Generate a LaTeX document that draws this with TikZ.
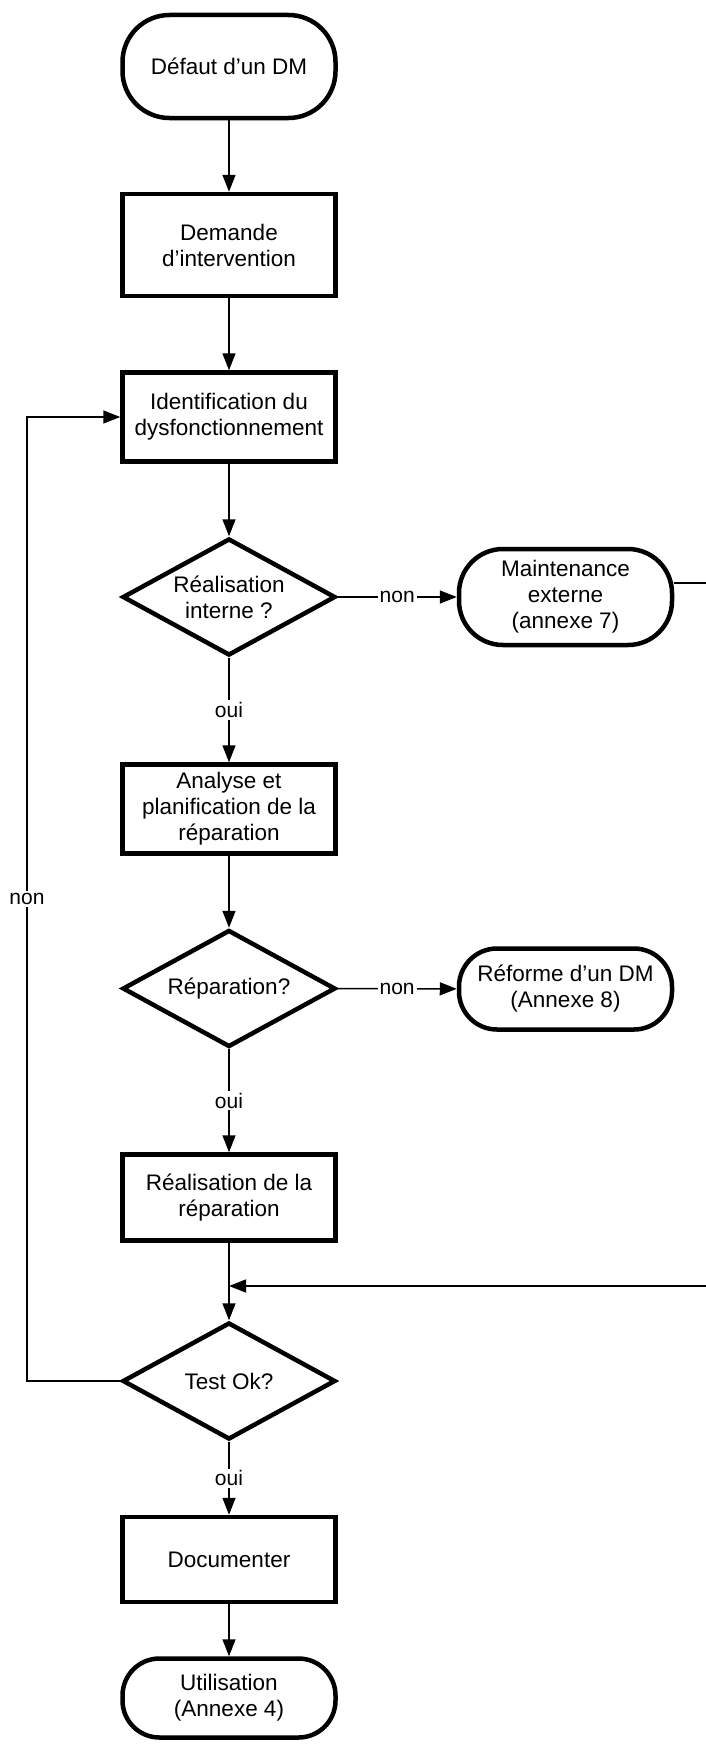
\documentclass[tikz,border=0pt]{standalone}
\usepackage{fontspec}
\setmainfont{Liberation Sans}
\usetikzlibrary{shapes.geometric,arrows.meta}
\begin{document}
\begin{tikzpicture}[x=1pt,y=-1pt,
  box/.style={draw, line width=4.5pt, minimum width=213pt, align=center,
    inner sep=0pt, font=\fontsize{22.5}{26}\selectfont},
  stepbox/.style={box, rectangle},
  term/.style={box, rectangle, rounded corners=#1},
  decision/.style={box, diamond, aspect=1.8, minimum height=117pt},
  flow/.style={line width=1.5pt, -{Triangle[length=17pt,width=13pt]}},
  lbl/.style={fill=white, inner sep=2pt, font=\fontsize{21}{24}\selectfont}]

\useasboundingbox (0,0) rectangle (706,1745);
\clip (0,0) rectangle (706,1745);

% main column
\node[term=47pt, minimum height=103pt] (def) at (229,66.5) {Défaut d’un DM};
\node[stepbox, minimum height=102pt] (dem) at (229,245) {Demande\\d’intervention};
\node[stepbox, minimum height=89pt] (ident) at (229,417) {Identification du\\dysfonctionnement};
\node[decision] (d1) at (229,597) {Réalisation\\interne ?};
\node[stepbox, minimum height=89pt] (ana) at (229,809) {Analyse et\\planification de la\\réparation};
\node[decision] (d2) at (229,988.5) {Réparation?};
\node[stepbox, minimum height=86pt] (real) at (229,1197.5) {Réalisation de la\\réparation};
\node[decision] (test) at (229,1381) {Test Ok?};
\node[stepbox, minimum height=85pt] (doc) at (229,1559.5) {Documenter};
\node[term=37pt, minimum height=79pt] (util) at (229,1698) {Utilisation\\(Annexe 4)};

% side exits
\node[term=44pt, minimum height=96pt] (maint) at (565.5,597) {Maintenance\\externe\\(annexe 7)};
\node[term=38pt, minimum height=81pt] (ref) at (565.5,989) {Réforme d’un DM\\(Annexe 8)};

% routing points
\coordinate (fb) at (229,1286);
\coordinate (rtop) at (720,583);
\coordinate (lb) at (27,1381);
\coordinate (lt) at (27,417);

% connectors
\draw[flow] (def) -- (dem);
\draw[flow] (dem) -- (ident);
\draw[flow] (ident) -- (d1);
\draw[flow] (d1) -- node[lbl] {non} (maint);
\draw[flow] (d1) -- node[lbl] {oui} (ana);
\draw[flow] (ana) -- (d2);
\draw[flow] (d2) -- node[lbl] {non} (ref);
\draw[flow] (d2) -- node[lbl] {oui} (real);
\draw[flow] (real) -- (test);
\draw[flow] ([yshift=14pt]maint.east) -- (rtop) |- (fb);
\draw[flow] (test.west) -- (lb) -- node[lbl] {non} (lt) -- (ident.west);
\draw[flow] (test) -- node[lbl] {oui} (doc);
\draw[flow] (doc) -- (util);
\end{tikzpicture}
\end{document}
